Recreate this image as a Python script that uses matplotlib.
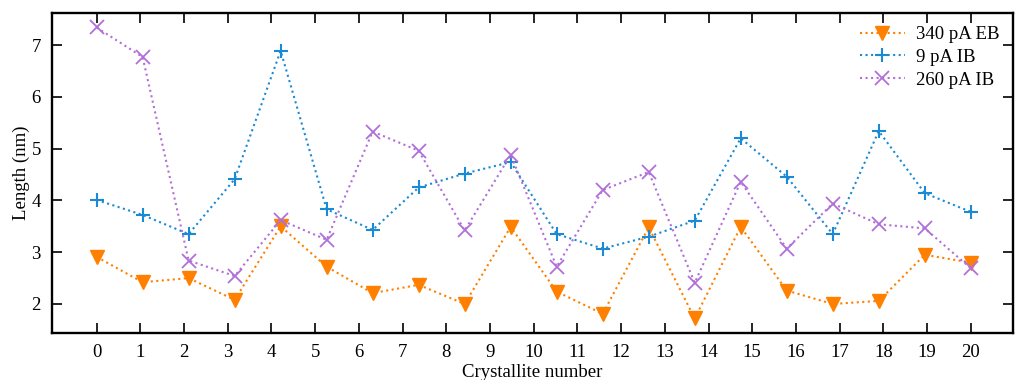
import matplotlib

matplotlib.use("Agg")
import matplotlib.pyplot as plt
import numpy as np

plt.rcParams["font.family"] = ["Liberation Serif", "DejaVu Serif"]

# 20 crystallites spread evenly over the 0..20 axis
n_points = 20
eb_340 = [2.91, 2.42, 2.50, 2.08, 3.50, 2.72, 2.21, 2.37, 2.00, 3.49,
          2.24, 1.81, 3.48, 1.72, 3.49, 2.26, 2.00, 2.06, 2.95, 2.80]
ib_9 = [4.01, 3.72, 3.35, 4.41, 6.89, 3.83, 3.43, 4.25, 4.52, 4.74,
        3.35, 3.07, 3.30, 3.61, 5.20, 4.46, 3.35, 5.34, 4.14, 3.78]
ib_260 = [7.34, 6.77, 2.84, 2.54, 3.62, 3.24, 5.33, 4.96, 3.42, 4.88,
          2.72, 4.20, 4.55, 2.41, 4.36, 3.07, 3.94, 3.54, 3.46, 2.69]
labels = ["340 pA EB", "9 pA IB", "260 pA IB"]
x_ticks = list(range(0, 21))
y_ticks = [2, 3, 4, 5, 6, 7]

COLORS = {
    "orange": "#ff8000",
    "blue": "#1a8ad4",
    "purple": "#b070d8",
}

x = np.linspace(0, 20, n_points)

fig = plt.figure(figsize=(10.24, 3.8), dpi=100)
ax = fig.add_axes([0.0508, 0.1237, 0.9382, 0.8421])

ax.plot(x, eb_340, linestyle=":", linewidth=1.5, color=COLORS["orange"],
        marker="v", markersize=10, label=labels[0])
ax.plot(x, ib_9, linestyle=":", linewidth=1.5, color=COLORS["blue"],
        marker="+", markersize=10, markeredgewidth=1.5, label=labels[1])
ax.plot(x, ib_260, linestyle=":", linewidth=1.5, color=COLORS["purple"],
        marker="x", markersize=10, markeredgewidth=1.3, label=labels[2])

ax.set_xlim(-1.02, 20.96)
ax.set_ylim(1.44, 7.62)
ax.set_xticks(x_ticks)
ax.set_yticks(y_ticks)
ax.tick_params(direction="in", length=7, width=1.2, labelsize=13.5,
               top=True, right=True, pad=8)
for spine in ax.spines.values():
    spine.set_linewidth(1.7)

ax.set_xlabel("Crystallite number", fontsize=13.5, labelpad=2)
ax.set_ylabel("Length (nm)", fontsize=13.5, labelpad=1)

ax.legend(loc="upper right", frameon=False, fontsize=13.5, handlelength=2.4,
          borderaxespad=0.3, labelspacing=0.3, handletextpad=0.6)

fig.savefig("out.png", dpi=100)
plt.close(fig)
